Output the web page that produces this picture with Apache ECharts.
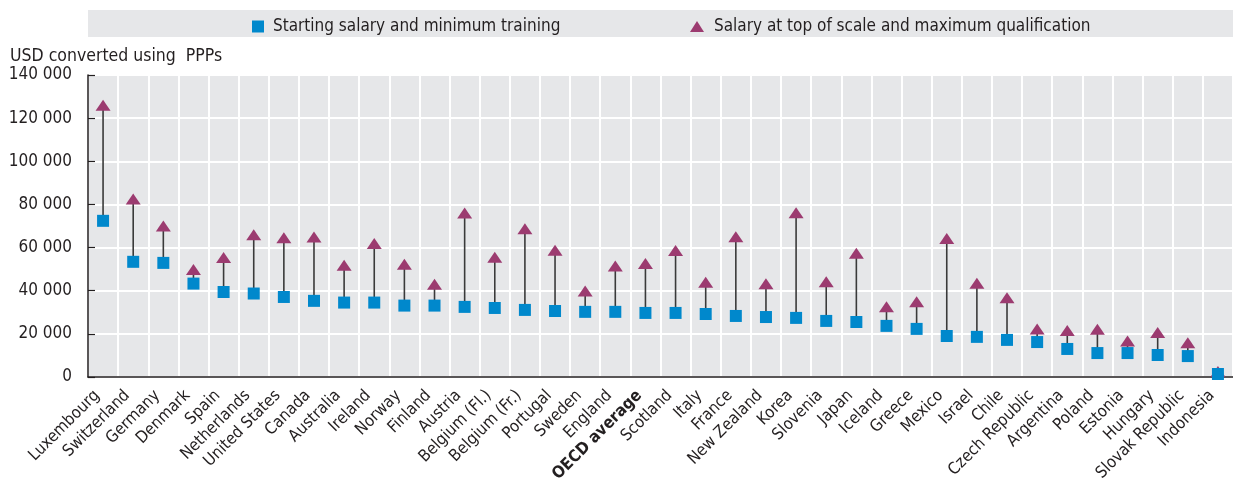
<!DOCTYPE html>
<html>
<head>
<meta charset="utf-8">
<script src="https://cdn.jsdelivr.net/npm/echarts@6/dist/echarts.min.js"></script>
<style>
  html, body { margin: 0; padding: 0; background: #fff; }
  #chart { width: 1233px; height: 478px; }
</style>
</head>
<body>
<div id="chart"></div>
<script>
// Teachers' statutory salaries, USD converted using PPPs
const countries = [
  'Luxembourg', 'Switzerland', 'Germany', 'Denmark', 'Spain', 'Netherlands',
  'United States', 'Canada', 'Australia', 'Ireland', 'Norway', 'Finland',
  'Austria', 'Belgium (Fl.)', 'Belgium (Fr.)', 'Portugal', 'Sweden', 'England',
  'OECD average', 'Scotland', 'Italy', 'France', 'New Zealand', 'Korea',
  'Slovenia', 'Japan', 'Iceland', 'Greece', 'Mexico', 'Israel', 'Chile',
  'Czech Republic', 'Argentina', 'Poland', 'Estonia', 'Hungary',
  'Slovak Republic', 'Indonesia'
];

const startingSalary = [
  72400, 53400, 52900, 43300, 39400, 38700, 37100, 35300, 34500, 34500,
  33100, 33100, 32500, 32000, 31100, 30600, 30200, 30200, 29700, 29700,
  29200, 28300, 27800, 27400, 26000, 25500, 23700, 22300, 19000, 18600,
  17200, 16200, 13000, 11100, 11100, 10200, 9700, 1400
];

const topSalary = [
  126000, 82500, 70000, 49800, 55400, 65900, 64600, 64900, 51800, 61900,
  52300, 43000, 76000, 55500, 68700, 58800, 39900, 51500, 52600, 58600,
  43900, 65000, 43200, 76200, 44100, 57400, 32600, 34900, 64200, 43500,
  36700, 22300, 21500, 22100, 16700, 20600, 15900, 2600
];

const yTicks = { min: 0, max: 140000, step: 20000 };

const seriesNames = [
  'Starting salary and minimum training',
  'Salary at top of scale and maximum qualification'
];

const FONT = "'Liberation Sans Narrow', 'DejaVu Sans Condensed', 'Arial Narrow', sans-serif";
const BLUE = '#0088cc';
const PURPLE = '#9c3b70';
const INK = '#231f20';

const chart = echarts.init(document.getElementById('chart'), null, { renderer: 'canvas' });

const ranges = countries.map((c, i) => [i, startingSalary[i], topSalary[i]]);

chart.setOption({
  animation: false,
  backgroundColor: '#fff',
  textStyle: { fontFamily: FONT },
  graphic: [
    {
      type: 'rect',
      left: 88, top: 10,
      shape: { width: 1145, height: 27 },
      style: { fill: '#e6e7e9' },
      z: -1
    },
    {
      type: 'text',
      left: 10, top: 47,
      style: { text: 'USD converted using  PPPs', font: '17.5px ' + FONT, fill: INK }
    }
  ],
  legend: [
    {
      data: [seriesNames[0]],
      left: 252, top: 18, padding: 0,
      icon: 'rect',
      itemWidth: 12, itemHeight: 12, itemGap: 10,
      textStyle: { fontSize: 17, color: INK, fontFamily: FONT, padding: [0, 0, 0, 4] }
    },
    {
      data: [{ name: seriesNames[1], icon: 'triangle' }],
      left: 690, top: 18, padding: 0,
      itemWidth: 14, itemHeight: 11,
      textStyle: { fontSize: 17, color: INK, fontFamily: FONT, padding: [0, 0, 0, 5] }
    }
  ],
  grid: {
    left: 88, right: 0, top: 75, bottom: 101,
    outerBoundsMode: 'none',
    containLabel: false,
    show: true, backgroundColor: '#e6e7e9', borderWidth: 0
  },
  xAxis: {
    type: 'category',
    data: countries,
    boundaryGap: true,
    axisLine: { lineStyle: { color: INK, width: 1.5 } },
    axisTick: { inside: true, length: 8, lineStyle: { color: INK, width: 1.2 } },
    splitLine: { show: true, lineStyle: { color: '#ffffff', width: 2 } },
    axisLabel: {
      rotate: 45,
      interval: 0,
      margin: 22,
      verticalAlign: 'bottom',
      fontSize: 16.5,
      color: INK,
      fontFamily: FONT,
      formatter: (v) => v === 'OECD average' ? '{b|' + v + '}' : v,
      rich: { b: { fontWeight: 'bold', fontSize: 16.5, color: INK, fontFamily: FONT } }
    }
  },
  yAxis: {
    type: 'value',
    min: yTicks.min, max: yTicks.max, interval: yTicks.step,
    axisLine: { show: true, lineStyle: { color: INK, width: 1.5 } },
    axisTick: { show: true, inside: true, length: 7, lineStyle: { color: INK, width: 1.2 } },
    splitLine: { show: true, lineStyle: { color: '#ffffff', width: 2 } },
    axisLabel: {
      fontSize: 17, color: INK, fontFamily: FONT, margin: 16,
      formatter: (v) => v === 0 ? '0' : (v / 1000) + ' 000'
    }
  },
  series: [
    {
      name: 'range',
      type: 'custom',
      data: ranges,
      z: 2,
      silent: true,
      renderItem: (params, api) => {
        const i = api.value(0);
        const lo = api.coord([i, api.value(1)]);
        const hi = api.coord([i, api.value(2)]);
        return {
          type: 'line',
          shape: { x1: lo[0], y1: lo[1], x2: hi[0], y2: hi[1] },
          style: { stroke: '#3a3a3a', lineWidth: 1.6 }
        };
      }
    },
    {
      name: seriesNames[1],
      type: 'scatter',
      data: topSalary,
      symbol: 'triangle',
      symbolSize: [15, 11],
      itemStyle: { color: PURPLE, opacity: 1 },
      z: 3
    },
    {
      name: seriesNames[0],
      type: 'scatter',
      data: startingSalary,
      symbol: 'rect',
      symbolSize: 12,
      itemStyle: { color: BLUE, opacity: 1 },
      z: 4
    }
  ]
});
</script>
</body>
</html>
